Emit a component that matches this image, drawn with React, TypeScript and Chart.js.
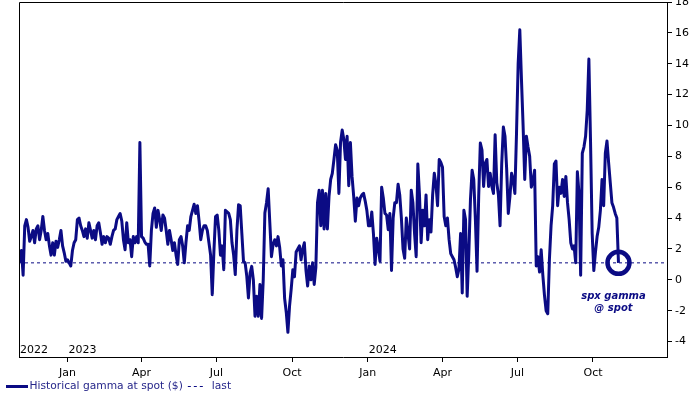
import React, { useEffect, useRef } from 'react';
import { Chart, registerables } from 'chart.js';

Chart.register(...registerables);

// Dates are day offsets from 2023-01-01; series starts 4 Nov 2022, one reading every 2 days
const START_DAY = -58;
const STEP_DAYS = 2;
const X_MIN_DAY = -59;
const X_MAX_DAY = 729;

const gammaValues: number[] = [
  1.1, 1.9, 0.3, 3.5, 3.9, 3.4, 2.5, 2.8, 3.2, 2.4, 3.3, 3.5, 2.6, 3.2, 4.1, 3.2, 2.6, 3.0, 2.2, 1.6,
  2.4, 1.6, 2.5, 2.1, 2.6, 3.2, 2.2, 1.75, 1.2, 1.3, 1.1, 0.9, 1.9, 2.4, 2.6, 3.9, 4.0, 3.5, 3.2, 2.8,
  3.3, 2.7, 3.7, 3.2, 2.7, 3.2, 2.6, 3.5, 3.7, 3.05, 2.3, 2.8, 2.4, 2.8, 2.7, 2.3, 2.8, 3.2, 3.3, 3.9,
  4.1, 4.3, 3.8, 2.6, 1.95, 3.7, 2.4, 2.6, 1.5, 2.8, 2.4, 2.8, 2.4, 8.9, 2.8, 2.7, 2.45, 2.3, 2.3, 0.9,
  3.2, 4.3, 4.65, 3.4, 4.5, 3.9, 3.2, 4.2, 4.0, 3.2, 2.3, 3.2, 2.6, 1.9, 2.4, 1.6, 1.0, 2.6, 2.8, 2.2,
  1.1, 2.4, 3.5, 3.2, 4.1, 4.5, 4.9, 4.3, 4.8, 3.8, 2.6, 3.2, 3.5, 3.5, 3.2, 2.4, 1.6, -0.96, 1.8, 4.1,
  4.2, 3.2, 1.6, 2.2, 0.66, 4.5, 4.4, 4.3, 3.9, 2.4, 1.6, 0.34, 3.2, 4.87, 4.8, 3.0, 1.2, 1.1, 0.23, -1.17,
  0.44, 0.87, 0.0, -2.36, -1.07, -2.36, -0.3, -2.5, 0.0, 4.33, 5.0, 5.9, 3.7, 1.5, 2.3, 2.6, 2.2, 2.8, 2.1, 0.9,
  1.3, -1.2, -2.1, -3.4, -1.7, -0.6, 0.66, 0.2, 1.8, 2.0, 2.2, 1.3, 2.0, 2.4, 0.6, -0.4, 0.9, 0.0, 1.1, -0.3,
  0.8, 5.0, 5.8, 3.5, 5.8, 3.3, 5.6, 3.3, 5.4, 6.5, 6.9, 7.8, 8.75, 8.4, 5.6, 8.9, 9.7, 9.1, 7.8, 9.3,
  6.1, 8.9, 6.7, 5.4, 3.8, 5.3, 4.8, 5.3, 5.5, 5.6, 5.1, 4.5, 3.5, 3.5, 4.4, 3.0, 1.0, 2.7, 2.0, 1.2,
  6.0, 5.3, 4.3, 4.2, 3.25, 4.3, 0.6, 4.0, 5.0, 5.0, 6.2, 5.5, 4.0, 2.0, 1.4, 4.0, 3.0, 2.0, 5.8, 5.0,
  3.0, 1.5, 7.5, 5.5, 2.4, 4.5, 3.5, 5.5, 2.6, 3.9, 3.1, 5.5, 6.9, 6.2, 4.8, 7.8, 7.6, 7.3, 4.1, 3.5,
  4.0, 2.6, 1.7, 1.5, 1.3, 0.8, 0.2, 0.7, 3.0, -0.85, 4.5, 3.9, -1.07, 1.7, 5.2, 7.1, 6.5, 3.9, 0.55, 5.4,
  8.86, 8.4, 6.05, 7.56, 7.8, 6.05, 6.9, 6.05, 5.6, 9.4, 6.3, 5.5, 3.5, 7.5, 9.9, 9.3, 7.2, 4.3, 5.4, 6.9,
  6.5, 5.6, 9.5, 14.0, 16.2, 13.0, 10.0, 6.5, 9.3, 8.6, 8.0, 6.0, 6.4, 7.1, 0.9, 1.5, 0.5, 1.95, 0.3, -1.0,
  -2.0, -2.2, 1.3, 3.5, 4.8, 7.5, 7.7, 4.8, 6.0, 5.6, 6.5, 5.4, 6.7, 5.0, 3.9, 2.4, 2.0, 2.2, 1.1, 7.0,
  5.6, 0.3, 8.2, 8.6, 9.3, 11.0, 14.3, 9.0, 3.0, 0.6, 1.8, 2.8, 3.4, 4.5, 6.5, 4.8, 8.2, 9.0, 7.6, 6.3,
  5.0, 4.7, 4.3, 4.0, 1.1,
];

const lastLevel = 1.1;

const monthTickDays = [0, 90, 181, 273, 365, 456, 547, 639];
const monthTickLabels = ['Jan', 'Apr', 'Jul', 'Oct', 'Jan', 'Apr', 'Jul', 'Oct'];
const yearLabelDays = [X_MIN_DAY, 0, 365];
const yearLabels = ['2022', '2023', '2024'];
const yTickValues = [-4, -2, 0, 2, 4, 6, 8, 10, 12, 14, 16, 18];

const seriesLabel = 'Historical gamma at spot ($)';
const lastLabel = 'last';
const annotationLines = ['spx gamma', '@ spot'];

const NAVY = '#0b0b84';
const FONT = '"DejaVu Sans", Verdana, sans-serif';

const zeroPadding = () => ({ left: 0, top: 0, right: 0, bottom: 0 });

const decorPlugin = {
  id: 'decor',
  afterDraw(chart: any) {
    const { ctx, chartArea: a, scales } = chart;
    const xs = scales.x;
    const ys = scales.y;
    ctx.save();

    // top + left frame lines
    ctx.strokeStyle = '#000';
    ctx.lineWidth = 1;
    ctx.beginPath();
    ctx.moveTo(a.left + 0.5, a.bottom);
    ctx.lineTo(a.left + 0.5, a.top + 0.5);
    ctx.lineTo(a.right, a.top + 0.5);
    ctx.stroke();

    // year labels inside plot
    ctx.fillStyle = '#000';
    ctx.font = `11px ${FONT}`;
    ctx.textAlign = 'left';
    ctx.textBaseline = 'middle';
    yearLabelDays.forEach((d, i) => {
      const px = Math.max(xs.getPixelForValue(d), a.left) + 1;
      ctx.fillText(yearLabels[i], px, a.bottom - 7);
    });

    // annotation near last point
    const n = gammaValues.length - 1;
    const lx = xs.getPixelForValue(START_DAY + STEP_DAYS * n);
    const ly = ys.getPixelForValue(gammaValues[n]);
    ctx.fillStyle = NAVY;
    ctx.font = `italic bold 10px ${FONT}`;
    ctx.textAlign = 'center';
    annotationLines.forEach((t, i) => {
      ctx.fillText(t, lx - 5, ly + 34 + i * 12);
    });

    // legend
    const legY = 386.5;
    ctx.strokeStyle = NAVY;
    ctx.lineWidth = 3;
    ctx.beginPath();
    ctx.moveTo(6, legY);
    ctx.lineTo(28, legY);
    ctx.stroke();
    ctx.font = `10.7px ${FONT}`;
    ctx.textAlign = 'left';
    ctx.fillStyle = '#26268a';
    ctx.fillText(seriesLabel, 29.5, legY - 0.5);
    const tEnd = 29.5 + ctx.measureText(seriesLabel).width;
    ctx.lineWidth = 1;
    ctx.setLineDash([3, 3]);
    ctx.beginPath();
    ctx.moveTo(tEnd + 5, legY);
    ctx.lineTo(tEnd + 23, legY);
    ctx.stroke();
    ctx.setLineDash([]);
    ctx.fillText(lastLabel, tEnd + 29, legY - 0.5);

    ctx.restore();
  },
};

export default function App() {
  const canvasRef = useRef<HTMLCanvasElement | null>(null);

  useEffect(() => {
    document.body.style.margin = '0';
    const canvas = canvasRef.current;
    if (!canvas) return;
    const n = gammaValues.length - 1;
    const chart = new Chart(canvas, {
      type: 'line',
      data: {
        datasets: [
          {
            label: seriesLabel,
            data: gammaValues.map((v, i) => ({ x: START_DAY + STEP_DAYS * i, y: v })),
            borderColor: NAVY,
            borderWidth: 3,
            borderJoinStyle: 'round',
            tension: 0,
            pointRadius: (c: any) => (c.dataIndex === n ? 11 : 0),
            pointHoverRadius: 0,
            pointBorderWidth: 4.5,
            pointBorderColor: NAVY,
            pointBackgroundColor: 'rgba(0,0,0,0)',
          },
          {
            label: lastLabel,
            data: [
              { x: X_MIN_DAY, y: lastLevel },
              { x: X_MAX_DAY, y: lastLevel },
            ],
            borderColor: NAVY,
            borderWidth: 1,
            borderDash: [3, 3],
            pointRadius: 0,
          },
        ],
      },
      options: {
        animation: false,
        responsive: false,
        events: [],
        layout: { autoPadding: false, padding: { left: 19, top: 2, right: 0, bottom: 15 } },
        plugins: { legend: { display: false }, title: { display: false }, tooltip: { enabled: false } },
        scales: {
          x: {
            type: 'linear',
            min: X_MIN_DAY,
            max: X_MAX_DAY,
            afterBuildTicks: (ax: any) => {
              ax.ticks = monthTickDays.map((v) => ({ value: v }));
            },
            afterFit: (ax: any) => {
              ax.height = 22;
              ax.paddingLeft = 0;
              ax.paddingRight = 0;
              ax.paddingTop = 0;
              ax.paddingBottom = 0;
              ax.getPadding = zeroPadding;
            },
            ticks: {
              autoSkip: false,
              maxRotation: 0,
              color: '#000',
              padding: 5,
              font: { family: FONT, size: 11 },
              callback: (_v: any, i: number) => monthTickLabels[i],
            },
            grid: { drawOnChartArea: false, drawTicks: true, tickLength: 5, color: '#000' },
            border: { display: true, color: '#000', width: 1 },
          },
          y: {
            type: 'linear',
            position: 'right',
            min: -5,
            max: 18,
            afterBuildTicks: (ax: any) => {
              ax.ticks = yTickValues.map((v) => ({ value: v }));
            },
            afterFit: (ax: any) => {
              ax.width = 33;
              ax.paddingTop = 0;
              ax.paddingBottom = 0;
              ax.paddingLeft = 0;
              ax.paddingRight = 0;
              ax.getPadding = zeroPadding;
            },
            ticks: {
              color: '#000',
              padding: 3,
              font: { family: FONT, size: 11 },
            },
            grid: { drawOnChartArea: false, drawTicks: true, tickLength: 5, color: '#000' },
            border: { display: true, color: '#000', width: 1 },
          },
        },
      } as any,
      plugins: [decorPlugin],
    });
    return () => chart.destroy();
  }, []);

  return (
    <div style={{ width: 700, height: 394 }}>
      <canvas ref={canvasRef} width={700} height={394} style={{ display: 'block' }} />
    </div>
  );
}
